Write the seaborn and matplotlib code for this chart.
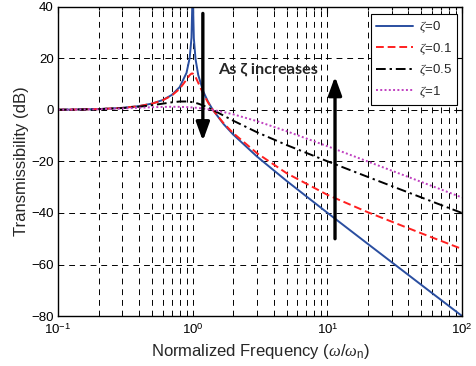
import numpy as np
import pandas as pd
import matplotlib
matplotlib.use("Agg")
import matplotlib.pyplot as plt
import seaborn as sns
from matplotlib.ticker import LogLocator, FixedLocator, NullFormatter

# Normalized frequency (omega / omega_n)
freq = [0.1, 0.2, 0.3, 0.4, 0.5, 0.6, 0.7, 0.8, 0.9, 0.95, 0.98, 0.997, 1.0,
        1.003, 1.02, 1.05, 1.1, 1.2, 1.3, 1.414, 1.7, 2, 3, 5, 10, 20, 50, 100]
# Transmissibility in dB read for each damping ratio
t_z0 = [0.09, 0.35, 0.82, 1.51, 2.50, 3.88, 5.85, 8.87, 14.42, 20.22, 28.05, 44.45, 60.0,
        44.42, 27.87, 19.79, 13.56, 7.13, 3.22, 0.0, -5.53, -9.54, -18.06, -27.60, -39.91,
        -52.02, -67.96, -80.0]
t_z01 = [0.09, 0.35, 0.82, 1.50, 2.47, 3.79, 5.62, 8.20, 11.78, 13.56, 14.15, 14.17, 14.15,
         14.12, 13.82, 12.81, 10.54, 6.24, 2.93, 0.0, -5.19, -8.97, -16.75, -24.60, -32.93,
         -39.72, -47.91, -53.97]
t_z05 = [0.09, 0.34, 0.75, 1.27, 1.87, 2.47, 2.98, 3.29, 3.30, 3.19, 3.09, 3.02, 3.01,
         3.00, 2.92, 2.76, 2.46, 1.74, 0.94, 0.0, -2.20, -4.15, -8.63, -13.64, -19.91,
         -26.00, -33.98, -40.0]
t_z1 = [0.08, 0.30, 0.59, 0.86, 1.07, 1.20, 1.25, 1.22, 1.12, 1.05, 1.00, 0.97, 0.97,
        0.96, 0.93, 0.88, 0.78, 0.55, 0.30, 0.0, -0.81, -1.68, -4.32, -8.26, -14.06,
        -20.02, -27.96, -33.98]
labels = ["$\\zeta$=0", "$\\zeta$=0.1", "$\\zeta$=0.5", "$\\zeta$=1"]
series = [t_z0, t_z01, t_z05, t_z1]

x_ticks = [0.1, 1, 10, 100]
x_ticklabels = ["$10^{-1}$", "$10^{0}$", "$10^{1}$", "$10^{2}$"]
y_ticks = [-80, -60, -40, -20, 0, 20, 40]

sns.set_theme(style="white")
plt.rcParams["font.family"] = ["Liberation Sans", "DejaVu Sans"]
plt.rcParams["mathtext.fontset"] = "custom"
plt.rcParams["mathtext.rm"] = "Liberation Sans"
plt.rcParams["mathtext.it"] = "Liberation Serif:italic"

frames = []
for lab, vals in zip(labels, series):
    frames.append(pd.DataFrame({"freq": freq, "dB": vals, "zeta": lab}))
df = pd.concat(frames, ignore_index=True)

fig = plt.figure(figsize=(4.77, 3.66), dpi=100)
ax = fig.add_axes([0.1216, 0.1366, 0.847, 0.8443])

styles = {
    labels[0]: dict(color="#2a4ea0", ls="-", lw=1.4),
    labels[1]: dict(color="#ff2020", ls=(0, (4, 2)), lw=1.4),
    labels[2]: dict(color="black", ls=(0, (5, 2, 1.2, 2)), lw=1.4),
    labels[3]: dict(color="#c040c0", ls=(0, (1, 1.2)), lw=1.4),
}
for lab in labels:
    st = styles[lab]
    sns.lineplot(data=df[df["zeta"] == lab], x="freq", y="dB", ax=ax,
                 color=st["color"], linestyle=st["ls"], linewidth=st["lw"],
                 label=lab, estimator=None, sort=False)

ax.set_xscale("log")
ax.set_xlim(0.1, 100)
ax.set_ylim(-80, 40)
ax.xaxis.set_major_locator(FixedLocator(x_ticks))
ax.set_xticklabels(x_ticklabels)
ax.xaxis.set_minor_locator(LogLocator(base=10, subs=np.arange(2, 10)))
ax.xaxis.set_minor_formatter(NullFormatter())
ax.set_yticks(y_ticks)

ax.grid(True, which="major", axis="both", color="black", linestyle=(0, (6, 5)), linewidth=0.7)
ax.grid(True, which="minor", axis="x", color="black", linestyle=(0, (6, 5)), linewidth=0.7)

for sp in ax.spines.values():
    sp.set_color("black")
    sp.set_linewidth(1.0)
ax.tick_params(which="both", direction="in", top=True, right=True, labelsize=9.5,
               colors="black", length=4, width=0.8, pad=3)
ax.tick_params(axis="x", which="both", pad=5)
ax.tick_params(which="minor", length=2.5)

ax.set_xlabel("Normalized Frequency ($\\omega/\\omega_\\mathrm{n}$)", fontsize=12, labelpad=3)
ax.set_ylabel("Transmissibility (dB)", fontsize=12, labelpad=2)

leg = ax.legend(loc="upper right", fontsize=9.5, frameon=True, fancybox=False,
                edgecolor="black", handlelength=2.8, handletextpad=0.4,
                borderpad=0.4, labelspacing=0.45, borderaxespad=0,
                bbox_to_anchor=(0.9876, 0.977))
leg.get_frame().set_linewidth(0.8)
leg.get_frame().set_alpha(1)

arrow_kw = dict(arrowstyle="-|>,head_width=0.4,head_length=1.1", color="black", lw=2.4,
                mutation_scale=10, shrinkA=0, shrinkB=0)
ax.annotate("", xy=(1.19, -12.0), xytext=(1.19, 37.5), arrowprops=arrow_kw)
ax.annotate("", xy=(11.4, 13.0), xytext=(11.4, -50.0), arrowprops=arrow_kw)
ax.text(3.6, 15.8, "As \u03b6 increases", fontsize=11.7, fontweight="bold",
        family=["Lato", "DejaVu Sans"], ha="center", va="center")

fig.savefig("out.png", dpi=100)
